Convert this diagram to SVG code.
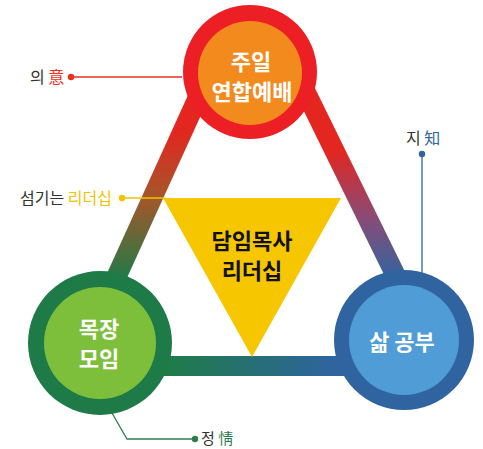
<svg xmlns="http://www.w3.org/2000/svg" width="483" height="449" viewBox="0 0 483 449">
<defs>
<linearGradient id="gL" gradientUnits="userSpaceOnUse" x1="0" y1="130" x2="0" y2="280">
<stop offset="0" stop-color="#e3261f"/><stop offset="0.45" stop-color="#a5562a"/><stop offset="1" stop-color="#1e7b48"/>
</linearGradient>
<linearGradient id="gR" gradientUnits="userSpaceOnUse" x1="0" y1="150" x2="0" y2="280">
<stop offset="0" stop-color="#e3261f"/><stop offset="0.5" stop-color="#8d4a74"/><stop offset="1" stop-color="#2f64a0"/>
</linearGradient>
<linearGradient id="gB" gradientUnits="userSpaceOnUse" x1="170" y1="0" x2="335" y2="0">
<stop offset="0" stop-color="#1e7b48"/><stop offset="1" stop-color="#2f64a0"/>
</linearGradient>
</defs>
<style>
.bar{fill:none;stroke-width:20;stroke-linecap:butt}
.t{font-family:"Noto Sans CJK KR","Noto Sans",sans-serif;font-weight:700;fill:#fff;text-anchor:middle;font-size:22px}
.lab{font-family:"Noto Sans CJK KR","Noto Sans",sans-serif;font-size:16px;fill:#333}
.thin{fill:none;stroke-width:1.3}
</style>
<g id="connectors">
<line class="bar" x1="215" y1="60" x2="75" y2="368" stroke="url(#gL)"/>
<line class="bar" x1="290" y1="60" x2="441" y2="368" stroke="url(#gR)"/>
<line class="bar" x1="90" y1="366" x2="415" y2="366" stroke="url(#gB)"/>
<line class="thin" x1="71" y1="77" x2="182" y2="77" stroke="#e8321f"/>
<line class="thin" x1="422" y1="154" x2="422" y2="275" stroke="#2f64a0"/>
<polyline class="thin" points="112,413 127,439 195,439" stroke="#2e7d4f"/>
</g>
<g id="node-top">
<circle cx="250" cy="72" r="67" fill="#ec2024"/>
<circle cx="250" cy="73" r="52" fill="#f28a1e"/>
<text class="t" x="251" y="70">주일</text>
<text class="t" x="252" y="100">연합예배</text>
</g>
<g id="node-left">
<circle cx="100" cy="343" r="72" fill="#1e7b48"/>
<circle cx="100" cy="343" r="56" fill="#7dbe3b"/>
<text class="t" x="99" y="337">목장</text>
<text class="t" x="99" y="367">모임</text>
</g>
<g id="node-right">
<circle cx="404" cy="340" r="70" fill="#2f64a0"/>
<circle cx="404" cy="340" r="55" fill="#4f9cd7"/>
<text class="t" x="402" y="350">삶 공부</text>
</g>
<g id="node-center">
<polygon points="163,198 341,198 252,357" fill="#f6c700"/>
<text class="t" x="252" y="249" style="fill:#111">담임목사</text>
<text class="t" x="252" y="279" style="fill:#111">리더십</text>
</g>
<g id="label-ui">
<text class="lab" x="30" y="83">의 <tspan fill="#e8321f">意</tspan></text>
<circle cx="71" cy="77" r="3.2" fill="#e8321f"/>
</g>
<g id="label-ji">
<text class="lab" x="406" y="144">지 <tspan fill="#2f64a0">知</tspan></text>
<circle cx="422" cy="154" r="3.2" fill="#2f64a0"/>
</g>
<g id="label-servant">
<line class="thin" x1="122" y1="198" x2="165" y2="198" stroke="#f2c200"/>
<text class="lab" x="20" y="204">섬기는 <tspan fill="#f2c200">리더십</tspan></text>
<circle cx="122" cy="198" r="3.2" fill="#f2c200"/>
</g>
<g id="label-jeong">
<text class="lab" x="201" y="444" style="font-size:15px">정 <tspan fill="#2e7d4f">情</tspan></text>
<circle cx="195" cy="439" r="3.2" fill="#2e7d4f"/>
</g>
</svg>
